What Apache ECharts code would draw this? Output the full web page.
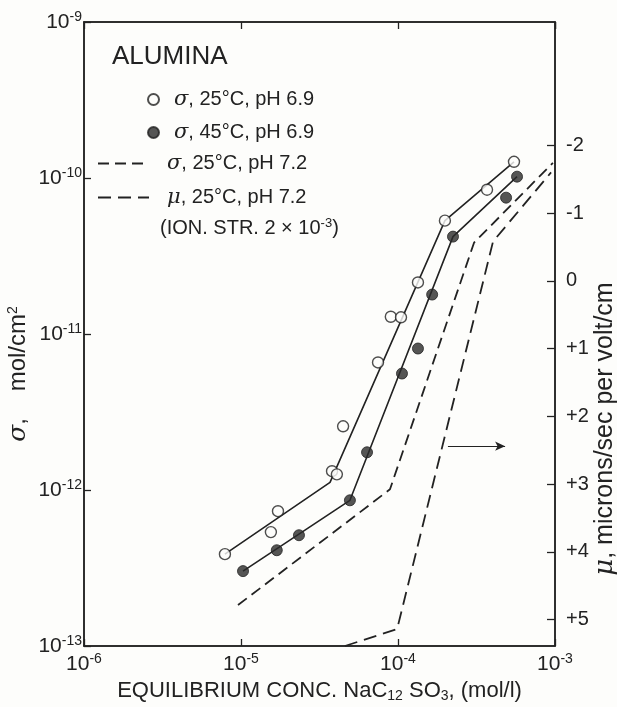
<!DOCTYPE html>
<html>
<head>
<meta charset="utf-8">
<script src="https://cdn.jsdelivr.net/npm/echarts@6.0.0/dist/echarts.min.js"></script>
<style>
  html, body { margin: 0; padding: 0; background: #fdfdfb; }
  #chart { width: 617px; height: 707px; }
</style>
</head>
<body>
<div id="chart"></div>
<script>
// open circles: sigma, 25 C, pH 6.9
const openConc  = [7.9e-6, 1.55e-5, 1.72e-5, 3.8e-5, 4.08e-5, 4.47e-5, 7.46e-5, 9.0e-5, 1.045e-4, 1.34e-4, 1.99e-4, 3.69e-4, 5.48e-4];
const openSigma = [3.88e-13, 5.37e-13, 7.31e-13, 1.32e-12, 1.26e-12, 2.56e-12, 6.57e-12, 1.29e-11, 1.28e-11, 2.14e-11, 5.33e-11, 8.41e-11, 1.27e-10];
// filled circles: sigma, 45 C, pH 6.9
const filledConc  = [1.03e-5, 1.69e-5, 2.34e-5, 4.94e-5, 6.35e-5, 1.06e-4, 1.34e-4, 1.65e-4, 2.24e-4, 4.88e-4, 5.73e-4];
const filledSigma = [3.02e-13, 4.11e-13, 5.13e-13, 8.59e-13, 1.745e-12, 5.58e-12, 8.07e-12, 1.79e-11, 4.21e-11, 7.48e-11, 1.02e-10];
// drawn curves through the points
const openFitConc    = [7.9e-6, 3.69e-5, 1.99e-4, 5.48e-4];
const openFitSigma   = [3.88e-13, 1.12e-12, 5.33e-11, 1.27e-10];
const filledFitConc  = [1.03e-5, 4.94e-5, 2.24e-4, 5.73e-4];
const filledFitSigma = [3.02e-13, 8.59e-13, 4.21e-11, 1.02e-10];
// dashed: sigma, 25 C, pH 7.2
const ph72Conc  = [9.57e-6, 8.89e-5, 3.05e-4, 9.7e-4];
const ph72Sigma = [1.83e-13, 1.01e-12, 3.85e-11, 1.25e-10];
// dashed: mu (right axis), 25 C, pH 7.2
const muConc = [4.59e-5, 9.87e-5, 4.03e-4, 9.44e-4];
const muVal  = [5.39, 5.14, -0.58, -1.6];
// right axis ticks
const muTicks = [-2, -1, 0, 1, 2, 3, 4, 5];

const FONT = 'Liberation Sans';
const INK = '#222';
const BG = '#fdfdfb';

function zip(a, b) { return a.map((v, i) => [v, b[i]]); }
function pow10(v) { return '10{sup|' + Math.round(Math.log10(v)) + '}'; }

const supRich = { sup: { fontSize: 14, verticalAlign: 'top', lineHeight: 14, fontFamily: FONT, color: INK } };
const tickStyle = { show: true, inside: true, length: 7, lineStyle: { color: INK, width: 1.3 } };
const lineAxis = { show: true, onZero: false, lineStyle: { color: INK, width: 1.5 } };

const chart = echarts.init(document.getElementById('chart'));

chart.setOption({
    backgroundColor: BG,
    animation: false,
    grid: { left: 84, right: 62, top: 22, bottom: 61, outerBoundsMode: 'none', containLabel: false,
            show: true, borderColor: INK, borderWidth: 1.5 },
    title: [
        { text: 'ALUMINA', left: 112, top: 44, padding: 0,
          textStyle: { fontSize: 26, fontWeight: 'normal', color: INK, fontFamily: FONT } },
        { text: '(ION. STR. 2 × 10{s|-3})', left: 160, top: 217, padding: 0,
          textStyle: { fontSize: 20, fontWeight: 'normal', color: INK, fontFamily: FONT, lineHeight: 22,
                       rich: { s: { fontSize: 13, verticalAlign: 'top', lineHeight: 13, fontFamily: FONT, color: INK } } } }
    ],
    legend: [
        { orient: 'vertical', left: 147, top: 89, padding: 0, itemWidth: 11, itemHeight: 11, itemGap: 12,
          selectedMode: false, data: ['σ, 25°C, pH 6.9', 'σ, 45°C, pH 6.9'],
          formatter: name => '{g|σ}' + name.slice(1),
          textStyle: { fontSize: 20, color: INK, fontFamily: FONT, lineHeight: 20,
                       rich: { g: { fontStyle: 'italic', fontFamily: 'DejaVu Serif', fontSize: 21, lineHeight: 20, padding: [0, 0, 0, 10] } } } },
        { orient: 'vertical', left: 97, top: 153, padding: 0, itemWidth: 51, itemHeight: 14, itemGap: 13,
          selectedMode: false, data: ['σ, 25°C, pH 7.2', 'μ, 25°C, pH 7.2'],
          itemStyle: { opacity: 0 },
          formatter: name => '{g|' + name[0] + '}' + name.slice(1),
          textStyle: { fontSize: 20, color: INK, fontFamily: FONT, lineHeight: 20,
                       rich: { g: { fontStyle: 'italic', fontFamily: 'DejaVu Serif', fontSize: 21, lineHeight: 20, padding: [0, 0, 0, 13] } } } }
    ],
    xAxis: [
        { type: 'log', logBase: 10, min: 1e-6, max: 1e-3, position: 'bottom',
          name: 'EQUILIBRIUM CONC. NaC{sub|12} SO{sub|3}, (mol/l)', nameLocation: 'middle', nameGap: 33,
          nameMoveOverlap: false,
          nameTextStyle: { fontSize: 22, color: INK, fontFamily: FONT, lineHeight: 24,
                           rich: { sub: { fontSize: 14, verticalAlign: 'bottom', lineHeight: 15, fontFamily: FONT, color: INK } } },
          axisLine: lineAxis, axisTick: tickStyle,
          axisLabel: { formatter: pow10, fontSize: 21, color: INK, fontFamily: FONT, margin: 6, lineHeight: 24, rich: supRich },
          splitLine: { show: false } },
        { type: 'log', logBase: 10, min: 1e-6, max: 1e-3, position: 'top',
          axisLine: lineAxis, axisTick: tickStyle,
          axisLabel: { show: false }, splitLine: { show: false } }
    ],
    yAxis: [
        { type: 'log', logBase: 10, min: 1e-13, max: 1e-9, position: 'left',
          name: '{g|σ},    mol/cm{sup|2}', nameLocation: 'middle', nameRotate: 90, nameGap: 54,
          nameMoveOverlap: false,
          nameTextStyle: { fontSize: 24, color: INK, fontFamily: FONT, lineHeight: 24, padding: [0, 80, 0, 0],
                           rich: { g: { fontStyle: 'italic', fontFamily: 'DejaVu Serif', fontSize: 25 },
                                   sup: { fontSize: 14, verticalAlign: 'top', lineHeight: 14 } } },
          axisLine: lineAxis, axisTick: tickStyle,
          axisLabel: { formatter: pow10, fontSize: 21, color: INK, fontFamily: FONT, margin: 2, lineHeight: 24, rich: supRich },
          splitLine: { show: false } },
        { type: 'value', min: -3.82, max: 5.39, inverse: true, position: 'right',
          name: '{g|μ}, microns/sec per volt/cm', nameLocation: 'middle', nameRotate: 90, nameGap: 38,
          nameMoveOverlap: false,
          nameTextStyle: { fontSize: 25, color: INK, fontFamily: FONT, lineHeight: 24, padding: [0, 190, 0, 0],
                           rich: { g: { fontStyle: 'italic', fontFamily: 'DejaVu Serif', fontSize: 26 } } },
          axisLine: lineAxis,
          axisTick: { show: true, inside: true, length: 8, customValues: muTicks, lineStyle: { color: INK, width: 1.3 } },
          axisLabel: { customValues: muTicks, formatter: v => (v > 0 ? '+' + v : String(v)),
                       fontSize: 20, color: INK, fontFamily: FONT, margin: 11 },
          splitLine: { show: false } }
    ],
    series: [
        { name: 'open fit', type: 'line', xAxisIndex: 0, yAxisIndex: 0, data: zip(openFitConc, openFitSigma),
          symbol: 'none', lineStyle: { color: INK, width: 1.6 }, z: 2 },
        { name: 'filled fit', type: 'line', xAxisIndex: 0, yAxisIndex: 0, data: zip(filledFitConc, filledFitSigma),
          symbol: 'none', lineStyle: { color: INK, width: 1.6 }, z: 2 },
        { name: 'σ, 25°C, pH 6.9', type: 'scatter', xAxisIndex: 0, yAxisIndex: 0, data: zip(openConc, openSigma),
          symbol: 'circle', symbolSize: 11, itemStyle: { color: BG, borderColor: INK, borderWidth: 1.4 }, z: 3 },
        { name: 'σ, 45°C, pH 6.9', type: 'scatter', xAxisIndex: 0, yAxisIndex: 0, data: zip(filledConc, filledSigma),
          symbol: 'circle', symbolSize: 11, itemStyle: { color: '#2a2a2a', borderColor: INK, borderWidth: 1 }, z: 3 },
        { name: 'σ, 25°C, pH 7.2', type: 'line', xAxisIndex: 0, yAxisIndex: 0, data: zip(ph72Conc, ph72Sigma),
          symbol: 'none', itemStyle: { color: INK }, lineStyle: { color: INK, width: 1.8, type: [11, 6] }, z: 2 },
        { name: 'μ, 25°C, pH 7.2', type: 'line', xAxisIndex: 0, yAxisIndex: 1, data: zip(muConc, muVal),
          symbol: 'none', itemStyle: { color: INK }, lineStyle: { color: INK, width: 1.8, type: [13, 7] }, z: 2,
          markLine: { silent: true, symbol: ['none', 'arrow'], symbolSize: [7, 10],
                      lineStyle: { color: INK, width: 1.2, type: 'solid' }, label: { show: false },
                      data: [[{ coord: [2.08e-4, 2.44] }, { coord: [4.81e-4, 2.44] }]] } }
    ]
});
</script>
</body>
</html>
